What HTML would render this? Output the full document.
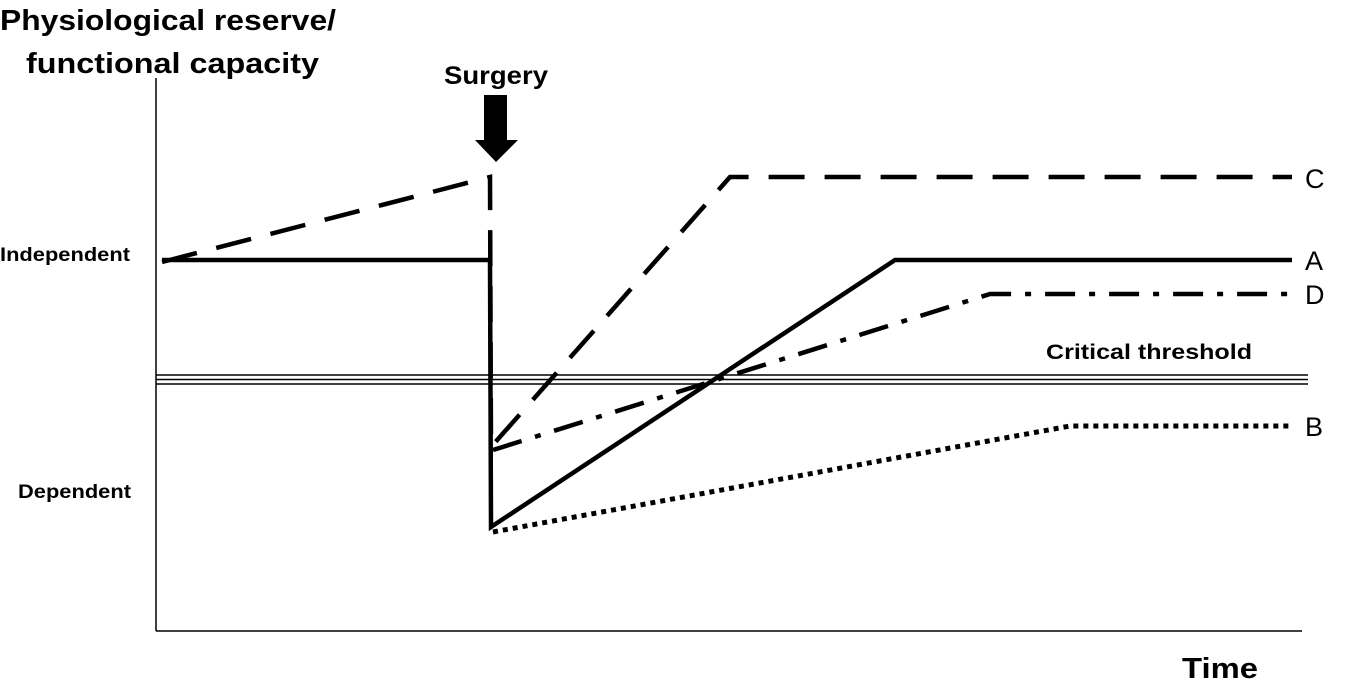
<!DOCTYPE html>
<html><head><style>body{margin:0;background:#fff}svg{display:block}</style></head><body>
<svg width="1354" height="683" xmlns="http://www.w3.org/2000/svg" font-family="Liberation Sans, sans-serif">
<rect width="1354" height="683" fill="#fff"/>
<g font-weight="bold" fill="#000">
<text x="0" y="30" font-size="29" textLength="336" lengthAdjust="spacingAndGlyphs">Physiological reserve/</text>
<text x="26" y="73" font-size="29" textLength="293" lengthAdjust="spacingAndGlyphs">functional capacity</text>
<text x="444" y="84" font-size="25" textLength="104" lengthAdjust="spacingAndGlyphs">Surgery</text>
<text x="0" y="261" font-size="19" textLength="130" lengthAdjust="spacingAndGlyphs">Independent</text>
<text x="18" y="498" font-size="19" textLength="113" lengthAdjust="spacingAndGlyphs">Dependent</text>
<text x="1046" y="359" font-size="21" textLength="206" lengthAdjust="spacingAndGlyphs">Critical threshold</text>
<text x="1182" y="678" font-size="29" textLength="76" lengthAdjust="spacingAndGlyphs">Time</text>
</g>
<g font-size="27" fill="#000">
<text x="1305" y="188">C</text>
<text x="1305" y="270">A</text>
<text x="1305" y="304">D</text>
<text x="1305" y="436">B</text>
</g>
<g stroke="#000" fill="none">
<line x1="156" y1="78" x2="156" y2="631" stroke-width="1.5"/>
<line x1="156" y1="631" x2="1302" y2="631" stroke-width="1.5"/>
<line x1="156" y1="375" x2="1308" y2="375" stroke-width="1.5"/>
<line x1="156" y1="379.5" x2="1308" y2="379.5" stroke-width="1.5"/>
<line x1="156" y1="384" x2="1308" y2="384" stroke-width="1.5"/>
<polyline points="162,260 490,260 491,527 895,260 1292,260" stroke-width="4.5"/>
<polyline points="162,262 490,177 491,447 730,177 1292,177" stroke-width="4.5" stroke-dasharray="36,20"/>
<polyline points="493,450 990,294 1292,294" stroke-width="4.5" stroke-dasharray="30,14,6,14"/>
<polyline points="493,532 1070,426 1292,426" stroke-width="5" stroke-dasharray="5,5"/>
</g>
<polygon points="484,95 507,95 507,140 518,140 496,162 475,140 484,140" fill="#000"/>
</svg>
</body></html>
